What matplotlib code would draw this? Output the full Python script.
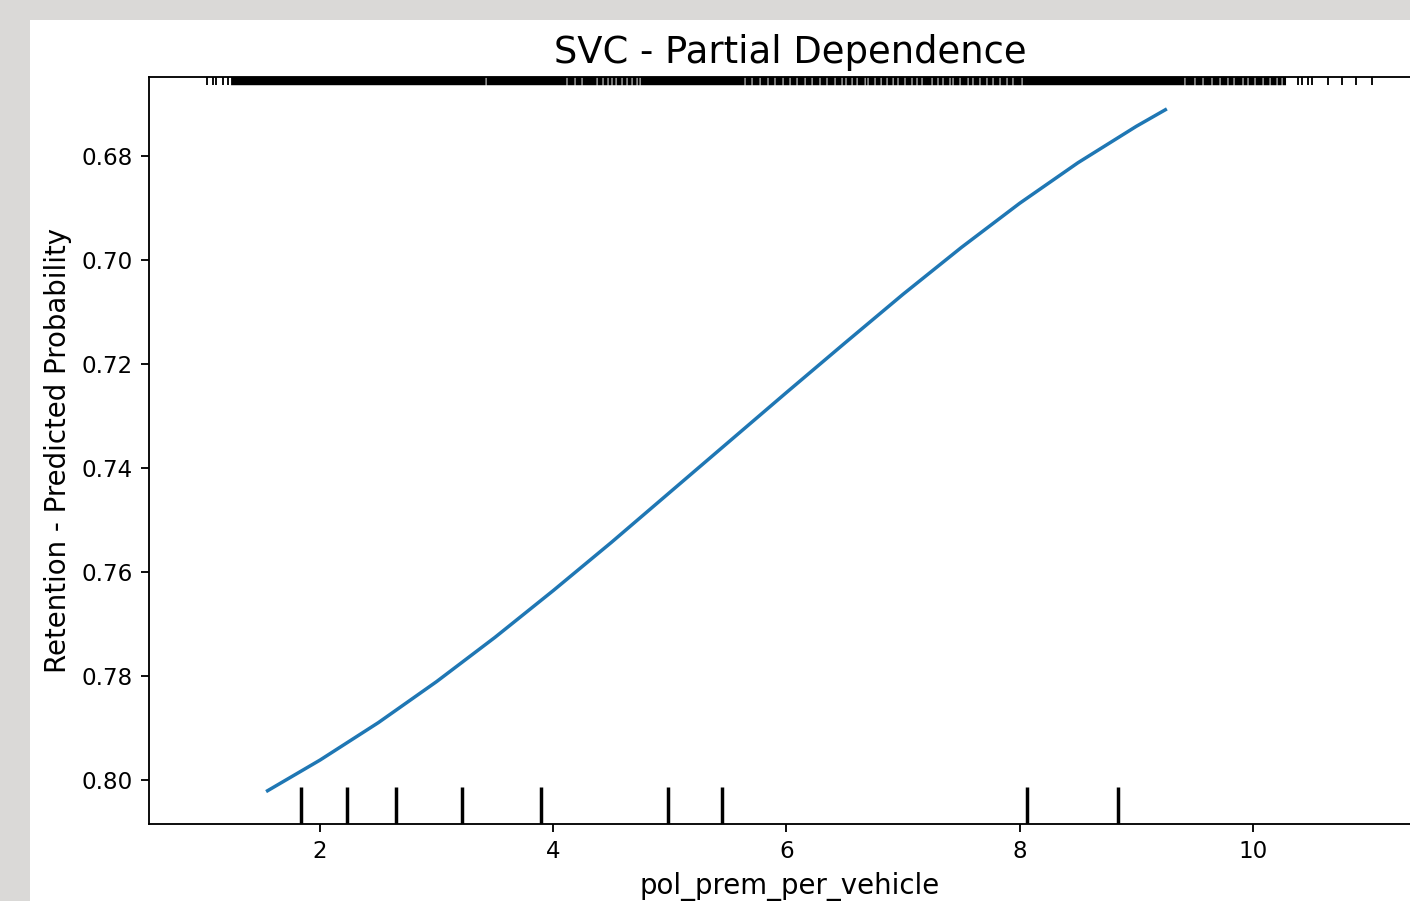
import numpy as np
import matplotlib.pyplot as plt
import matplotlib.transforms as mtransforms
from matplotlib.patches import Rectangle

# partial dependence curve
pd_x = [1.55, 2.0, 2.5, 3.0, 3.5, 4.0, 4.5, 5.0, 5.5, 6.0, 6.5, 7.0, 7.5, 8.0, 8.5, 9.0, 9.25]
pd_y = [0.8021, 0.7962, 0.7890, 0.7811, 0.7726, 0.7636, 0.7543, 0.7447, 0.7351, 0.7255, 0.7160,
        0.7066, 0.6976, 0.6891, 0.6813, 0.6743, 0.6711]

# deciles of the feature
deciles = [1.837, 2.232, 2.652, 3.218, 3.895, 4.985, 5.448, 8.063, 8.844]

# top rug: isolated observations, dense block and the thin gaps inside it
rug_single = [1.031, 1.078, 1.108, 1.164, 1.211,
              10.388, 10.422, 10.473, 10.508, 10.645, 10.765, 10.885, 11.022]
rug_start, rug_end = 1.237, 10.285
rug_gaps = [3.424, 4.118, 4.187, 4.247, 4.376, 4.427, 4.470, 4.504, 4.539, 4.590, 4.633,
            4.676, 4.719, 4.745, 5.645, 5.705, 5.774, 5.842, 5.902, 5.971, 6.031, 6.091,
            6.160, 6.220, 6.288, 6.348, 6.417, 6.477, 6.511, 6.563, 6.606, 6.675, 6.700,
            6.760, 6.812, 6.863, 6.915, 6.957, 7.017, 7.077, 7.120, 7.163, 7.249, 7.300,
            7.343, 7.403, 7.429, 7.489, 7.558, 7.600, 7.660, 7.720, 7.772, 7.832, 7.892,
            7.943, 8.021, 9.418, 9.504, 9.573, 9.650, 9.719, 9.787, 9.839, 9.916, 9.959,
            10.019, 10.088, 10.148, 10.208, 10.251]
gap_w = 0.008

x_ticks = [2, 4, 6, 8, 10]
y_ticks = [0.68, 0.70, 0.72, 0.74, 0.76, 0.78, 0.80]

W, H, DPI = 1410, 901, 166
fig = plt.figure(figsize=(W / DPI, H / DPI), dpi=DPI, facecolor='#dad9d7')
# white page of the screenshot
fig.patches.append(Rectangle((30 / W, 0), 1, 1 - 20 / H, transform=fig.transFigure,
                             facecolor='white', edgecolor='none', zorder=-10))

ax_right = 1431
ax = fig.add_axes([149 / W, 77 / H, (ax_right - 149) / W, 747 / H])
ax.set_facecolor('none')
ax.plot(pd_x, pd_y, color='#1f77b4', lw=1.5)

trans = mtransforms.blended_transform_factory(ax.transData, ax.transAxes)
ax.vlines(deciles, 0, 0.05, transform=trans, color='k', lw=1.5)

# rug along the top edge
edges = [rug_start]
for g in rug_gaps:
    edges += [g - gap_w / 2, g + gap_w / 2]
edges.append(rug_end)
for lo, hi in zip(edges[0::2], edges[1::2]):
    ax.add_patch(Rectangle((lo, 0.989), hi - lo, 0.011, transform=trans, snap=False,
                           facecolor='k', edgecolor='none', clip_on=False))
ax.vlines(rug_single, 0.989, 1.0, transform=trans, color='k', lw=0.8)

ax.set_xlim(0.533, 2 + (ax_right - 320) / 116.6)
ax.set_ylim(0.8085, 0.6648)
ax.set_xticks(x_ticks)
ax.set_yticks(y_ticks)
ax.set_yticklabels(['%.2f' % v for v in y_ticks])
ax.spines['right'].set_visible(False)

ax.set_xlabel('pol_prem_per_vehicle', fontsize=12)
ax.set_ylabel('Retention - Predicted Probability', fontsize=12)
ax.set_title('SVC - Partial Dependence', fontsize=16)

fig.savefig('out.png', dpi=DPI, facecolor=fig.get_facecolor())
